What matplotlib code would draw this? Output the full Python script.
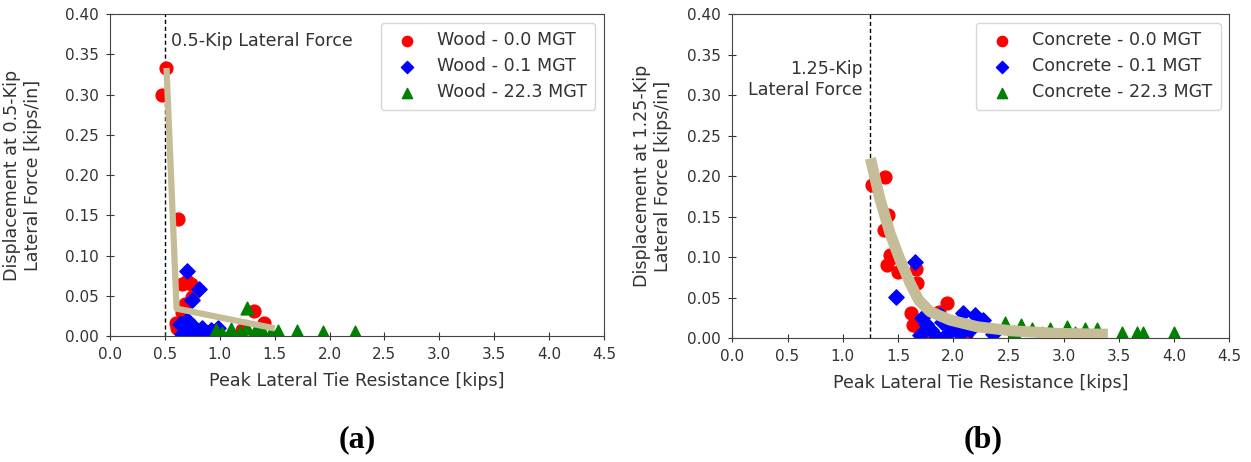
import matplotlib
matplotlib.use("Agg")
import matplotlib.pyplot as plt
import numpy as np

# Wood ties - peak lateral resistance [kips] vs displacement at 0.5 kip [kips/in]
wood_00_x = [0.51, 0.47, 0.62, 0.66, 0.70, 0.74, 0.75, 0.68, 0.66, 0.60, 0.61, 0.64, 1.31, 1.40, 1.20]
wood_00_y = [0.333, 0.300, 0.145, 0.065, 0.068, 0.064, 0.048, 0.040, 0.030, 0.016, 0.010, 0.012, 0.031, 0.016, 0.008]
wood_01_x = [0.70, 0.81, 0.75, 0.64, 0.68, 0.72, 0.76, 0.80, 0.84, 0.88, 0.70, 0.78, 0.92, 0.98, 0.66]
wood_01_y = [0.081, 0.058, 0.045, 0.015, 0.008, 0.004, 0.012, 0.006, 0.010, 0.004, 0.020, 0.002, 0.008, 0.010, 0.003]
wood_223_x = [1.25, 1.53, 1.70, 1.94, 2.23, 0.97, 1.02, 1.10, 1.18, 1.25, 1.32, 1.40, 1.47, 1.08, 1.35]
wood_223_y = [0.035, 0.006, 0.006, 0.005, 0.005, 0.007, 0.004, 0.009, 0.005, 0.010, 0.006, 0.003, 0.005, 0.002, 0.010]
wood_fit_x = [0.515, 0.607, 1.50]
wood_fit_y = [0.333, 0.034, 0.0095]

# Concrete ties - displacement at 1.25 kip
conc_00_x = [1.38, 1.26, 1.41, 1.37, 1.43, 1.40, 1.50, 1.46, 1.67, 1.66, 1.62, 1.94, 1.87, 1.64, 2.12, 1.70, 1.80, 2.05]
conc_00_y = [0.199, 0.189, 0.152, 0.134, 0.103, 0.091, 0.082, 0.100, 0.068, 0.085, 0.031, 0.043, 0.033, 0.016, 0.004, 0.010, 0.006, 0.008]
conc_01_x = [1.655, 1.48, 2.09, 2.20, 2.27, 1.70, 1.75, 1.80, 1.88, 1.95, 2.00, 2.06, 1.72, 1.85, 2.36, 1.90, 2.15]
conc_01_y = [0.0945, 0.051, 0.031, 0.029, 0.023, 0.004, 0.018, 0.010, 0.029, 0.006, 0.015, 0.005, 0.025, 0.002, 0.005, 0.020, 0.010]
conc_223_x = [2.47, 2.61, 2.71, 2.88, 3.03, 3.19, 3.30, 3.53, 3.66, 3.72, 4.00, 2.55, 2.80, 3.10]
conc_223_y = [0.019, 0.017, 0.012, 0.012, 0.0145, 0.012, 0.011, 0.007, 0.007, 0.007, 0.007, 0.008, 0.006, 0.006]
conc_fit_x = [1.25, 1.338, 1.428, 1.519, 1.61, 1.688, 1.79, 1.97, 2.216, 2.515, 2.94, 3.40]
conc_fit_y = [0.222, 0.171, 0.1295, 0.0966, 0.068, 0.047, 0.033, 0.0226, 0.0143, 0.0094, 0.006, 0.005]

mgt_labels = ["0.0 MGT", "0.1 MGT", "22.3 MGT"]
xticks = np.arange(0, 4.51, 0.5)
yticks = np.arange(0, 0.401, 0.05)

FS = 12.6
plt.rcParams["font.size"] = FS
plt.rcParams["text.color"] = "#333333"
plt.rcParams["axes.labelcolor"] = "#333333"
plt.rcParams["xtick.color"] = "#333333"
plt.rcParams["ytick.color"] = "#333333"
plt.rcParams["axes.edgecolor"] = "#444444"

fig = plt.figure(figsize=(12.51, 4.62), dpi=100)
ax1 = fig.add_axes([0.0879, 0.2727, 0.3949, 0.697])
ax2 = fig.add_axes([0.5854, 0.2677, 0.3973, 0.702])

fitcol = "#c5bd98"


def setup(ax, material, xs, ys, fx, fy, lw, force, ylab, ylab_x):
    markers = ["o", "D", "^"]
    colors = ["red", "blue", "green"]
    sizes = [85, 60, 85]
    for x, y, m, c, s, lab in zip(xs, ys, markers, colors, sizes, mgt_labels):
        ax.scatter(x, y, marker=m, color=c, s=s, label=f"{material} - {lab}", zorder=2)
    ax.plot(fx, fy, color=fitcol, lw=lw, solid_capstyle="butt", zorder=3)
    ax.axvline(force, color="black", lw=1, linestyle=(0, (3, 2)), zorder=1)
    ax.set_xlim(0, 4.5)
    ax.set_ylim(0, 0.40)
    ax.set_xticks(xticks)
    ax.set_yticks(yticks)
    ax.set_yticklabels([f"{v:.2f}" for v in yticks])
    ax.tick_params(direction="inout", length=6, pad=5, labelsize=11)
    ax.set_xlabel("Peak Lateral Tie Resistance [kips]", labelpad=7)
    ax.set_ylabel(ylab)
    ax.yaxis.set_label_coords(ylab_x, 0.5)
    ax.legend(loc="upper right", markerscale=0.8, handlelength=2.0,
              handletextpad=0.7, labelspacing=0.45, borderpad=0.5)


setup(ax1, "Wood", [wood_00_x, wood_01_x, wood_223_x], [wood_00_y, wood_01_y, wood_223_y],
      wood_fit_x, wood_fit_y, 4.5, 0.5, "Displacement at 0.5-Kip\nLateral Force [kips/in]", -0.138)
setup(ax2, "Concrete", [conc_00_x, conc_01_x, conc_223_x], [conc_00_y, conc_01_y, conc_223_y],
      conc_fit_x, conc_fit_y, 8, 1.25, "Displacement at 1.25-Kip\nLateral Force [kips/in]", -0.122)

ax1.text(0.555, 0.366, "0.5-Kip Lateral Force", va="center", ha="left")
ax2.text(1.18, 0.319, "1.25-Kip\nLateral Force", va="center", ha="right", multialignment="right")

fig.text(0.2854, 0.0476, "(a)", ha="center", va="center", fontsize=23,
         fontweight="bold", family="Liberation Serif", color="black")
fig.text(0.786, 0.0476, "(b)", ha="center", va="center", fontsize=23,
         fontweight="bold", family="Liberation Serif", color="black")

fig.savefig("out.png", dpi=100)
